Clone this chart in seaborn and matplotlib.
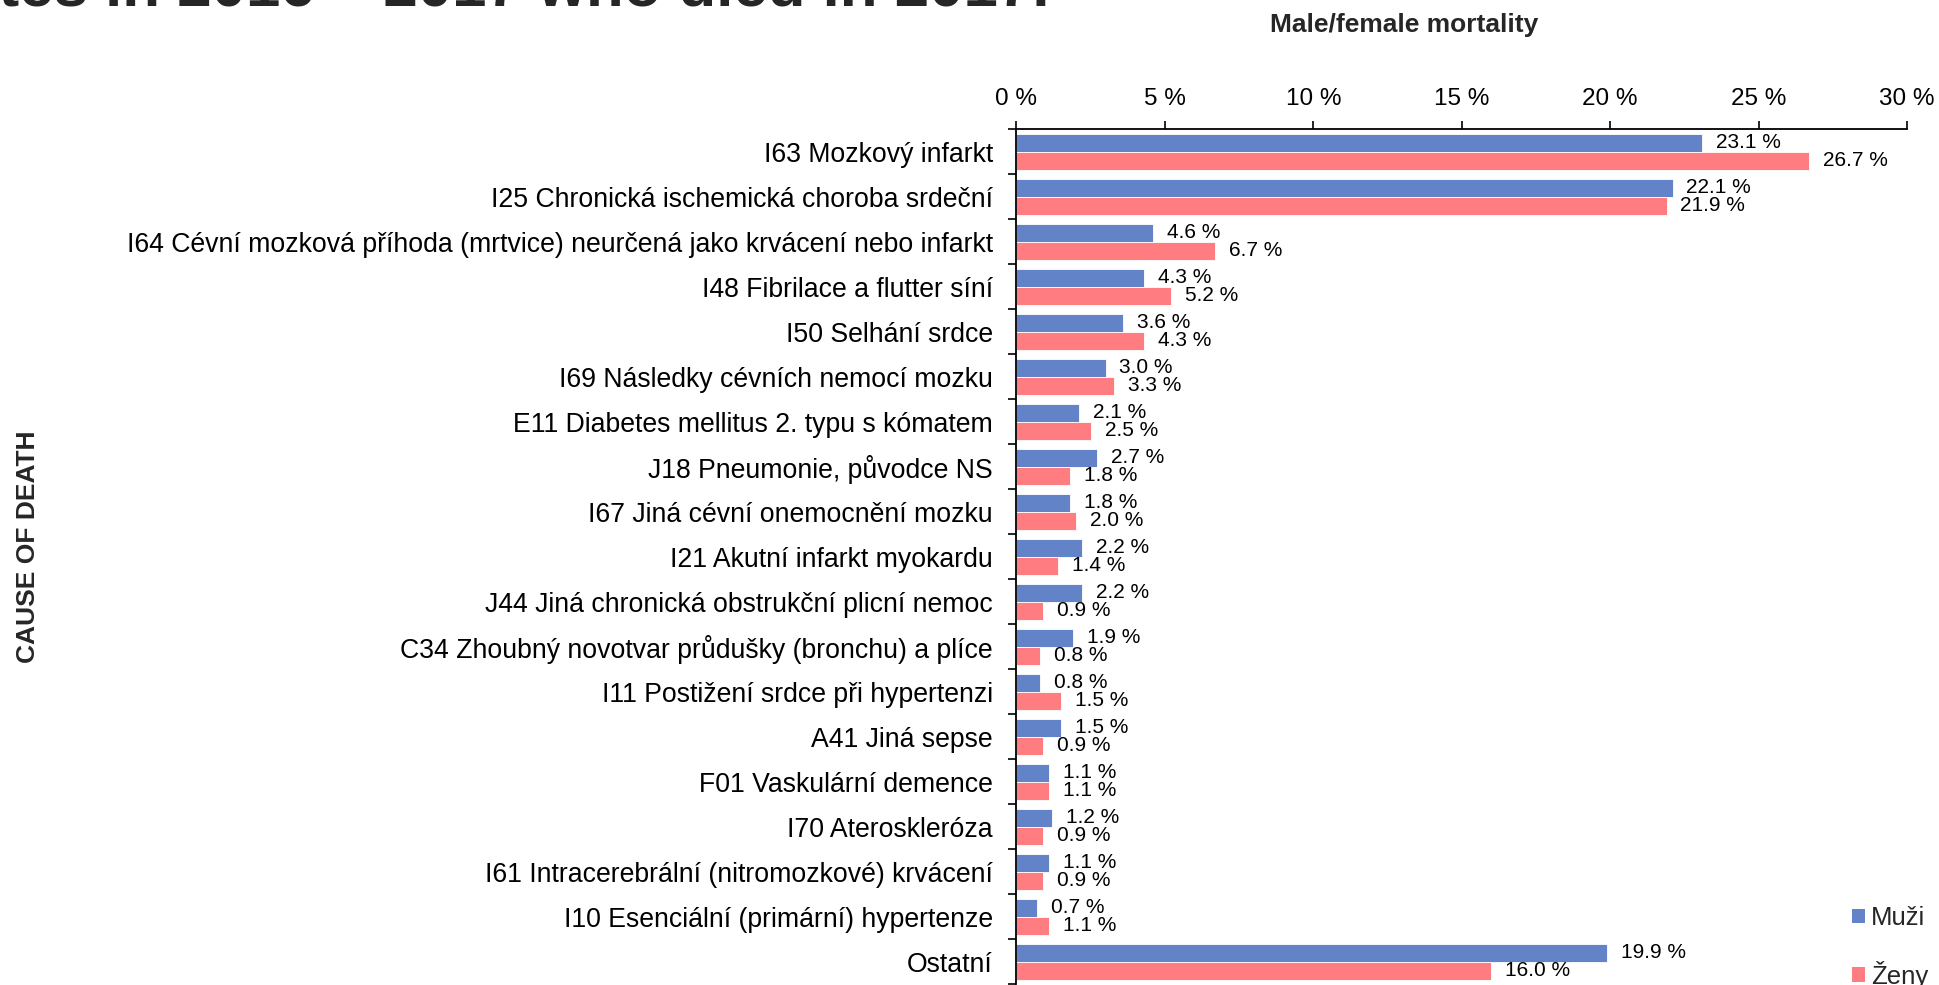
import numpy as np
import pandas as pd
import matplotlib
matplotlib.use("Agg")
import matplotlib.pyplot as plt
from matplotlib.patches import Patch
import seaborn as sns

# Causes of death and share of deaths (%) by sex
causes = [
    "I63 Mozkový infarkt",
    "I25 Chronická ischemická choroba srdeční",
    "I64 Cévní mozková příhoda (mrtvice) neurčená jako krvácení nebo infarkt",
    "I48 Fibrilace a flutter síní",
    "I50 Selhání srdce",
    "I69 Následky cévních nemocí mozku",
    "E11 Diabetes mellitus 2. typu s kómatem",
    "J18 Pneumonie, původce NS",
    "I67 Jiná cévní onemocnění mozku",
    "I21 Akutní infarkt myokardu",
    "J44 Jiná chronická obstrukční plicní nemoc",
    "C34 Zhoubný novotvar průdušky (bronchu) a plíce",
    "I11 Postižení srdce při hypertenzi",
    "A41 Jiná sepse",
    "F01 Vaskulární demence",
    "I70 Ateroskleróza",
    "I61 Intracerebrální (nitromozkové) krvácení",
    "I10 Esenciální (primární) hypertenze",
    "Ostatní",
]
muzi = [23.1, 22.1, 4.6, 4.3, 3.6, 3.0, 2.1, 2.7, 1.8, 2.2, 2.2, 1.9, 0.8, 1.5, 1.1, 1.2, 1.1, 0.7, 19.9]
zeny = [26.7, 21.9, 6.7, 5.2, 4.3, 3.3, 2.5, 1.8, 2.0, 1.4, 0.9, 0.8, 1.5, 0.9, 1.1, 0.9, 0.9, 1.1, 16.0]
series = ["Muži", "Ženy"]
x_ticks = [0, 5, 10, 15, 20, 25, 30]

colors = {"Muži": "#6283C8", "Ženy": "#FF7C80"}

df = pd.DataFrame({
    "cause": causes * 2,
    "value": muzi + zeny,
    "sex": [series[0]] * len(causes) + [series[1]] * len(causes),
})

sns.set_theme(style="white")
plt.rcParams["font.family"] = ["Liberation Sans", "DejaVu Sans"]

W, H = 1939, 985
fig = plt.figure(figsize=(W / 100, H / 100), dpi=100)
ax = fig.add_axes([1016.5 / W, 1 - 984 / H, (1907 - 1016.5) / W, (984 - 129) / H])

sns.barplot(data=df, x="value", y="cause", hue="sex", order=causes,
            hue_order=series, palette=colors, saturation=1, orient="h",
            width=0.8, edgecolor="white", linewidth=0.6, legend=False, ax=ax)

# value labels at the end of each bar
for cont, vals in zip(ax.containers, [muzi, zeny]):
    ax.bar_label(cont, labels=[f"{v:.1f} %" for v in vals], padding=10,
                 fontsize=15, color="black")

ax.set_xlim(0, 30)
ax.set_ylim(len(causes) - 0.5, -0.5)

# x axis on top
ax.xaxis.set_ticks_position("top")
ax.xaxis.set_label_position("top")
ax.set_xticks(x_ticks)
ax.set_xticklabels([f"{t} %" for t in x_ticks])
ax.tick_params(axis="x", which="major", direction="out", length=5.5, width=1.2,
               color="black", labelsize=17.5, pad=8, labelcolor="black")

# category labels centred, tick marks between categories
ax.set_yticks(np.arange(len(causes)))
ax.set_yticklabels(causes)
ax.set_yticks(np.arange(-0.5, len(causes), 1), minor=True)
ax.tick_params(axis="y", which="major", length=0, labelsize=19.2, pad=17,
               labelcolor="black")
ax.tick_params(axis="y", which="minor", direction="out", length=6, width=1.2,
               color="black", left=True)

for side in ["right", "bottom"]:
    ax.spines[side].set_visible(False)
for side in ["top", "left"]:
    ax.spines[side].set_visible(True)
    ax.spines[side].set_color("black")
    ax.spines[side].set_linewidth(1.3)

ax.set_xlabel("")
ax.set_ylabel("")

fig.text(28 / W, 1 - 547 / H, "CAUSE OF DEATH", rotation=90, ha="center",
         va="center", fontsize=19, fontweight="bold")
fig.text(1404 / W, 1 - 25 / H, "Male/female mortality", ha="center",
         va="center", fontsize=19, fontweight="bold")
fig.text(1049 / W, 1 - 6 / H, "s diabetes in 2016 – 2017 who died in 2017.",
         ha="right", va="baseline", fontsize=44.5, fontweight="bold")

handles = [Patch(facecolor=colors[s], edgecolor="none", label=s) for s in series]
fig.legend(handles=handles, loc="upper left",
           bbox_to_anchor=(1852 / W, 1 - 906 / H), frameon=False,
           handlelength=0.5, handleheight=0.5, handletextpad=0.25,
           labelspacing=1.2, borderpad=0, borderaxespad=0, fontsize=18.5)

fig.savefig("out.png", dpi=100)
